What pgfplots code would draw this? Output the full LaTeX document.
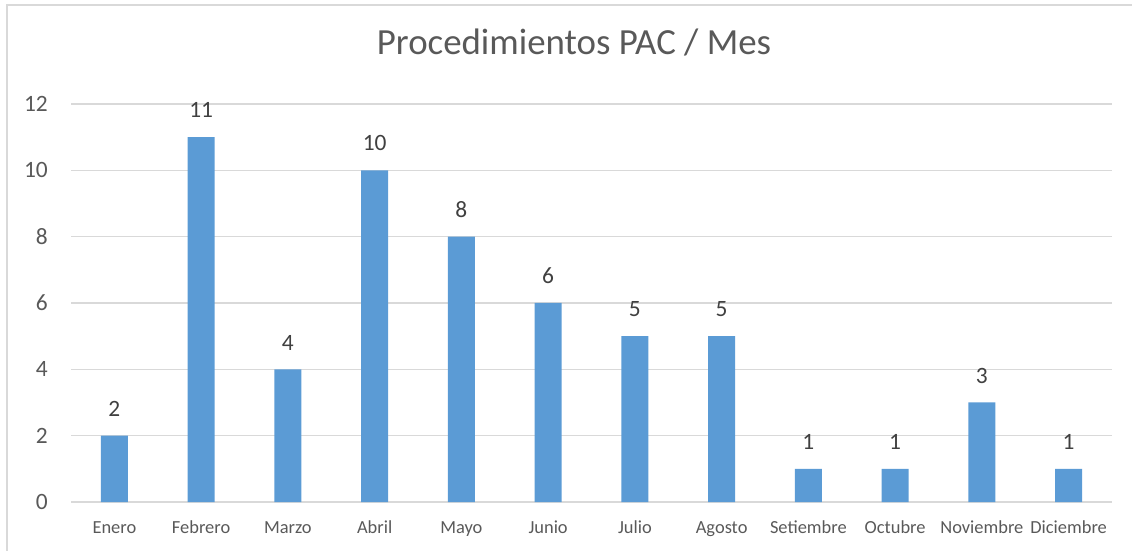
\documentclass[border=0pt]{standalone}
\usepackage{fontspec}
\setmainfont{Carlito}
\usepackage{pgfplots}
\pgfplotsset{compat=1.18}
\definecolor{barblue}{HTML}{5B9BD5}
\definecolor{gridgray}{HTML}{D9D9D9}
\definecolor{ticktext}{HTML}{595959}
\definecolor{datatext}{HTML}{404040}
\begin{document}
\begin{tikzpicture}
\path[use as bounding box] (0,0) rectangle (1132bp,551bp);
\draw[gridgray, line width=1.5bp] (7bp,-10bp) -- (7bp,546bp) -- (1145bp,546bp);
\node[anchor=base, text=ticktext, font=\fontsize{37}{42}\selectfont, inner sep=0pt] at (574bp,496bp) {Procedimientos PAC / Mes};
\begin{axis}[
  at={(71bp,49bp)}, anchor=south west,
  scale only axis, width=1041bp, height=398bp,
  xmin=-0.5, xmax=11.5, ymin=0, ymax=12,
  ytick={0,2,4,6,8,10,12},
  xtick={0,...,11},
  xticklabels={Enero,Febrero,Marzo,Abril,Mayo,Junio,Julio,Agosto,Setiembre,Octubre,Noviembre,Diciembre},
  axis line style={draw=none},
  major tick length=0pt,
  ymajorgrids, grid style={gridgray, line width=1.5bp},
  /pgf/number format/assume math mode=true,
  yticklabel style={font=\fontsize{23.5}{27}\selectfont, text=ticktext, inner sep=0pt, anchor=east, xshift=-23bp},
  xticklabel style={font=\fontsize{18.5}{22}\selectfont, text=ticktext, inner sep=0pt, anchor=base, yshift=-31bp},
  ybar, bar width=27bp, bar shift=0pt,
  nodes near coords,
  every node near coord/.append style={font=\fontsize{23.5}{27}\selectfont, text=datatext, inner sep=0pt, anchor=south, yshift=19bp},
  clip=false,
]
\addplot[fill=barblue, draw=none] coordinates {
(0,2) (1,11) (2,4) (3,10) (4,8) (5,6) (6,5) (7,5) (8,1) (9,1) (10,3) (11,1)
};
\end{axis}
\end{tikzpicture}
\end{document}
